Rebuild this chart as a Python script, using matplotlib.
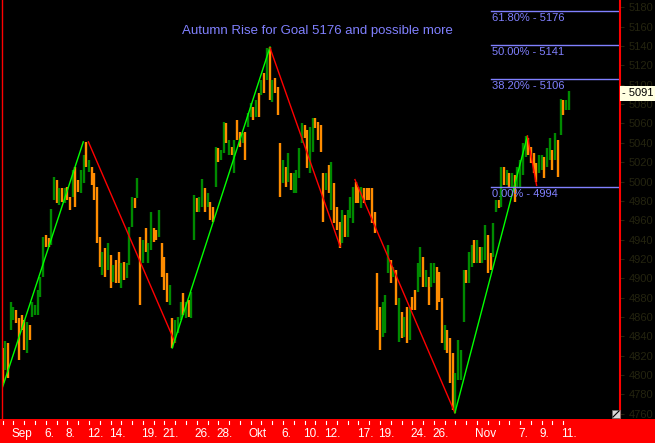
import matplotlib
matplotlib.use("Agg")
import matplotlib.pyplot as plt
import matplotlib.transforms as mtrans
from matplotlib.patches import Rectangle

# DAX, 4 bars per trading day, 31.08.2005 - 11.11.2005
highs = [4828, 4835, 4833, 4876, 4870, 4867, 4859, 4862, 4857, 4855,
         4852, 4875, 4872, 4888, 4901, 4943, 4945, 4942, 4972, 5005,
         5002, 4993, 4993, 4993, 4994, 4984, 5012, 5015, 5002, 5012,
         5027, 5041, 5022, 5015, 5009, 4994, 4943, 4927, 4931, 4936,
         4924, 4914, 4919, 4927, 4916, 4917, 4916, 4953, 4984, 4983,
         5004, 4943, 4940, 4952, 4936, 4968, 4952, 4950, 4971, 4936,
         4922, 4905, 4893, 4859, 4857, 4860, 4875, 4885, 4875, 4878,
         4886, 4986, 4983, 4984, 5003, 4993, 4988, 4979, 4974, 5036,
         5035, 5033, 5062, 5060, 5043, 5036, 5043, 5064, 5051, 5050,
         5051, 5071, 5081, 5077, 5084, 5092, 5105, 5112, 5138, 5139,
         5105, 5107, 5098, 5040, 5022, 5015, 5030, 5009, 5009, 5012,
         5035, 5060, 5058, 5053, 5056, 5066, 5066, 5062, 5058, 5009,
         5009, 5017, 5020, 4998, 4974, 4958, 4971, 4965, 4971, 4984,
         4994, 5000, 4994, 4994, 4993, 4993, 4993, 4993, 4968, 4905,
         4870, 4875, 4883, 4934, 4919, 4912, 4909, 4880, 4865, 4860,
         4870, 4870, 4881, 4888, 4916, 4932, 4922, 4909, 4901, 4916,
         4916, 4912, 4907, 4880, 4852, 4847, 4838, 4823, 4802, 4836,
         4826, 4909, 4909, 4927, 4934, 4940, 4940, 4932, 4932, 4955,
         4945, 4926, 4957, 4981, 4981, 5015, 5015, 5012, 5009, 5009,
         5007, 5015, 5022, 5040, 5047, 5045, 5036, 5030, 5019, 5027,
         5027, 5025, 5035, 5045, 5033, 5050, 5043, 5085, 5084, 5084,
         5094]
lows = [4792, 4805, 4797, 4847, 4857, 4854, 4816, 4847, 4826, 4823,
        4836, 4860, 4862, 4862, 4881, 4901, 4932, 4932, 4934, 4981,
        4978, 4976, 4979, 4978, 4981, 4971, 4984, 4974, 4989, 4988,
        4998, 5015, 5010, 4996, 4981, 4936, 4912, 4903, 4901, 4909,
        4890, 4896, 4895, 4895, 4890, 4898, 4900, 4914, 4953, 4973,
        4983, 4872, 4916, 4927, 4916, 4929, 4937, 4940, 4943, 4901,
        4888, 4876, 4872, 4828, 4833, 4843, 4857, 4862, 4859, 4860,
        4859, 4940, 4969, 4968, 4974, 4968, 4974, 4960, 4958, 4994,
        5020, 5022, 5030, 5040, 5027, 5027, 5009, 5043, 5036, 5040,
        5022, 5056, 5067, 5064, 5067, 5067, 5089, 5092, 5105, 5084,
        5082, 5092, 5069, 4984, 4998, 4994, 5000, 4991, 4988, 4988,
        5004, 5040, 5045, 5014, 5009, 5031, 5055, 5043, 5031, 4958,
        4991, 4988, 4971, 4957, 4950, 4931, 4936, 4943, 4943, 4962,
        4957, 4978, 4978, 4973, 4978, 4981, 4981, 4957, 4947, 4847,
        4826, 4839, 4843, 4905, 4895, 4901, 4872, 4834, 4838, 4839,
        4833, 4836, 4867, 4867, 4886, 4901, 4891, 4891, 4872, 4891,
        4895, 4867, 4876, 4833, 4826, 4823, 4792, 4764, 4761, 4795,
        4795, 4855, 4895, 4895, 4912, 4916, 4916, 4916, 4916, 4919,
        4905, 4909, 4922, 4969, 4973, 4974, 4996, 4996, 4994, 4994,
        4979, 4994, 4994, 5007, 5025, 5027, 5019, 5009, 5000, 5009,
        5012, 5004, 5015, 5022, 5012, 5022, 5005, 5048, 5069, 5074,
        5074]
# g = up bar, o = down bar
bar_dir = ("ogoggoooog" "ogggggoogg" "ogogoogoog" "gogoooogog" "ogoogogggo"
           "gogoggoogo" "oogogggogo" "ggoggogoog" "oggogogoog" "oggogogogo"
           "gooogogogg" "ggooggoooo" "gogooogogg" "googoooooo" "ogggogogog"
           "ogooggogog" "gooogooogg" "ggoggogogg" "ooggogogog" "oggggoooog"
           "goggogogogg")

# trend lines (bar index, price)
zz_x0 = [0, 31.8, 62.9, 99.2, 130.7, 167.8, 194.7]
zz_y0 = [4788, 5041, 4828, 5138, 5002, 4761, 5047]
zz_x1 = [29.9, 63.9, 99.2, 125.2, 167.8, 194.7, 198.1]
zz_y1 = [5041, 4834, 5139, 4933, 4761, 5047, 4996]
zz_col = ["#00ff00", "#ff0000", "#00ff00", "#ff0000", "#ff0000", "#00ff00", "#ff0000"]

fib_levels = [5176, 5141, 5106, 4994]
fib_pct = ["61.80%", "50.00%", "38.20%", "0.00%"]

# trading day number of each labelled date
day_num = [1, 4, 6, 8, 10, 13, 15, 18, 20, 23, 26, 28, 30, 33, 35, 38, 40, 44, 48, 50, 52]
day_lab = ["Sep", "6.", "8.", "12.", "14.", "19.", "21.", "26.", "28.", "Okt", "6.",
           "10.", "12.", "17.", "19.", "24.", "26.", "Nov", "7.", "9.", "11."]
n_days = 53
bars_per_day = 4
last_price = 5091

plt.rcParams["font.family"] = ["Liberation Sans", "DejaVu Sans"]

W, H = 655, 443
fig = plt.figure(figsize=(W / 100, H / 100), dpi=100, facecolor="black")
ax = fig.add_axes([2 / W, 24 / H, 618 / W, 419 / H], facecolor="black")
ax.set_zorder(2)

# red strip with dates
fig.patches.append(Rectangle((0, 0), 1, 24 / H, transform=fig.transFigure,
                             facecolor="#ff0000", edgecolor="none", zorder=0))

idx = list(range(len(highs)))
cmap = {"g": "#008a00", "o": "#ff8c00"}
ax.vlines(idx, lows, highs, colors=[cmap[c] for c in bar_dir], linewidth=1.7)

for a, b, c, d, col in zip(zz_x0, zz_y0, zz_x1, zz_y1, zz_col):
    ax.plot([a, c], [b, d], color=col, lw=1.0)

fibc = "#8080ff"
for lvl, pct in zip(fib_levels, fib_pct):
    ax.axhline(lvl, xmin=0.791, xmax=1.0, color=fibc, lw=1.0)
    ax.annotate(f"{pct} - {lvl}", xy=(0.791, lvl), xycoords=("axes fraction", "data"),
                xytext=(0.5, -1.5), textcoords="offset points",
                ha="left", va="top", color=fibc, fontsize=8)

ax.text(0.511, 0.926, "Autumn Rise for Goal 5176 and possible more",
        transform=ax.transAxes, ha="center", va="center", color=fibc, fontsize=9.5)

ax.set_xlim(-0.26, 229.05)
ax.set_ylim(4754.6, 5187.6)

axis_txt = "#24240f"
ax.set_xticks([])
ax.yaxis.tick_right()
ax.set_yticks(range(4760, 5181, 20))
ax.tick_params(axis="y", which="both", left=False, right=True, labelleft=False, labelright=True,
               color=axis_txt, labelcolor=axis_txt, length=3, pad=3, labelsize=8)
for lab in ax.get_yticklabels():
    lab.set_color(axis_txt)
for s in ["top", "bottom"]:
    ax.spines[s].set_visible(False)
ax.spines["right"].set_color("#ff0000")
ax.spines["right"].set_linewidth(1.5)
ax.spines["left"].set_color("#ff0000")
ax.spines["left"].set_linewidth(1.0)

# last price marker
tr = mtrans.blended_transform_factory(ax.transAxes, ax.transData)
ax.text(1.004, last_price, f"- {last_price}", transform=tr, ha="left", va="center",
        fontsize=8, color="black", clip_on=False, zorder=10,
        bbox=dict(boxstyle="square,pad=0.2", fc="#ffffe0", ec="none"))

# day ticks and date labels in the strip
trx = mtrans.blended_transform_factory(ax.transData, ax.transAxes)
for d in range(n_days):
    ax.plot([d * bars_per_day, d * bars_per_day], [-0.004, -0.013], color="white",
            lw=0.8, transform=trx, clip_on=False)
for d, lab in zip(day_num, day_lab):
    ax.text(d * bars_per_day - 0.7, -0.036, lab, transform=trx, ha="left", va="center",
            color="white", fontsize=8.5, clip_on=False)

# little corner box
fig.patches.append(Rectangle((612 / W, 25 / H), 8 / W, 8 / H, transform=fig.transFigure,
                             facecolor="#d8d8d8", edgecolor="#707070", lw=0.5, zorder=5))
fig.lines.append(plt.Line2D([613 / W, 619 / W], [26 / H, 32 / H], transform=fig.transFigure,
                            color="black", lw=0.8, zorder=6))

fig.savefig("out.png", dpi=100, facecolor="black")
